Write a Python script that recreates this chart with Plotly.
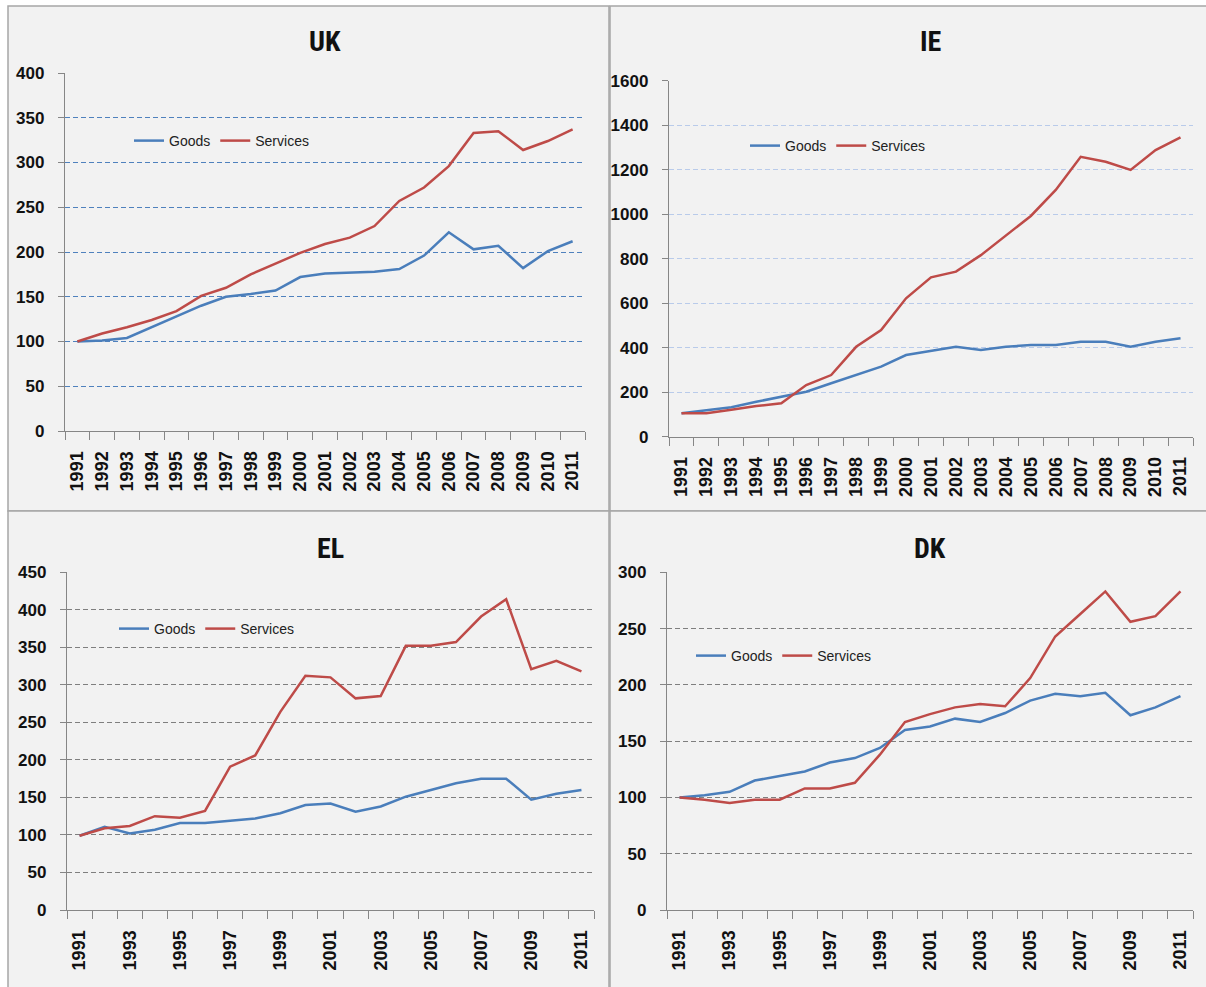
import plotly.graph_objects as go

years = list(range(1991, 2012))

uk_goods = [100, 101, 104, 116, 128, 140, 150, 153, 157, 172, 176, 177, 178, 181, 196, 222, 203, 207, 182, 201, 212]
uk_services = [100, 109, 116, 124, 134, 151, 160, 175, 187, 199, 209, 216, 229, 257, 272, 296, 333, 335, 314, 324, 337]

ie_goods = [105, 120, 132, 157, 180, 202, 240, 277, 315, 367, 386, 404, 390, 404, 412, 412, 427, 427, 404, 427, 442]
ie_services = [105, 105, 121, 138, 150, 232, 277, 404, 479, 622, 716, 742, 816, 902, 992, 1109, 1258, 1236, 1199, 1288, 1345]

el_goods = [99, 111, 102, 107, 116, 116, 119, 122, 129, 140, 142, 131, 138, 151, 160, 169, 175, 175, 147, 155, 160]
el_services = [99, 109, 112, 125, 123, 132, 191, 206, 264, 312, 310, 282, 285, 352, 352, 357, 391, 414, 321, 332, 318]

dk_goods = [100, 102, 105, 115, 119, 123, 131, 135, 144, 160, 163, 170, 167, 175, 186, 192, 190, 193, 173, 180, 190]
dk_services = [100, 98, 95, 98, 98, 108, 108, 113, 138, 167, 174, 180, 183, 181, 206, 243, 263, 283, 256, 261, 283]

panels = [
    # name, goods, services, xdomain, ydomain, yrange, dtick, gridcolor, label step, legend pos
    ("UK", uk_goods, uk_services, (65, 585), (73, 431), 400, 50, "#4f81bd", 1, (129, 141)),
    ("IE", ie_goods, ie_services, (669, 1193), (80.7, 436.7), 1600, 200, "#b9cbea", 1, (745, 146)),
    ("EL", el_goods, el_services, (67, 594), (572.3, 910), 450, 50, "#7f7f7f", 2, (114, 629)),
    ("DK", dk_goods, dk_services, (667, 1193), (572.3, 910), 300, 50, "#7f7f7f", 2, (691, 656)),
]

W, H = 1206, 987
GOODS_C = "#4a7ebb"
SERV_C = "#be4b48"
AXIS_C = "#868686"
TICK_FONT = "Liberation Sans, Arial, sans-serif"
TITLE_FONT = "Liberation Sans Narrow, Roboto Condensed, Arial Narrow, sans-serif"

fig = go.Figure()
layout = dict(
    width=W, height=H,
    margin=dict(l=0, r=0, t=0, b=0, autoexpand=False),
    paper_bgcolor="white",
    plot_bgcolor="rgba(0,0,0,0)",
    showlegend=True,
    shapes=[],
    annotations=[],
)

# panel backgrounds
for (x0, y0, x1, y1) in [(8, 6, 609, 511), (610, 6, 1212, 511), (8, 511, 609, 995), (610, 511, 1212, 995)]:
    layout["shapes"].append(dict(
        type="rect", xref="paper", yref="paper",
        x0=x0 / W, x1=x1 / W, y0=1 - y1 / H, y1=1 - y0 / H,
        fillcolor="#f2f2f2", line=dict(color="#a6a6a6", width=1.5), layer="below"))

for i, (name, goods, serv, xd, yd, ymax, dt, gc, step, lpos) in enumerate(panels):
    n = "" if i == 0 else str(i + 1)
    xa, ya = "x" + n, "y" + n
    leg = "legend" + n
    fig.add_trace(go.Scatter(x=years, y=goods, mode="lines", name="Goods",
                             line=dict(color=GOODS_C, width=2.5), xaxis=xa, yaxis=ya, legend=leg))
    fig.add_trace(go.Scatter(x=years, y=serv, mode="lines", name="Services",
                             line=dict(color=SERV_C, width=2.5), xaxis=xa, yaxis=ya, legend=leg))
    labels = years[::step]
    layout["xaxis" + n] = dict(
        domain=[xd[0] / W, xd[1] / W], anchor=ya,
        range=[1990.5, 2011.5], tickmode="array", tickvals=labels,
        ticktext=[str(y) for y in labels], tickangle=-90, ticks="",
        ticklabelstandoff=12,
        tickfont=dict(family=TICK_FONT, size=18, color="#111111", weight="bold"),
        showline=True, linecolor=AXIS_C, linewidth=1.3, showgrid=False, zeroline=False,
        minor=dict(tickmode="array", tickvals=[1990.5 + k for k in range(22)],
                   ticks="outside", ticklen=8, tickcolor=AXIS_C, tickwidth=1.3, showgrid=False),
        fixedrange=True, automargin=False,
    )
    layout["yaxis" + n] = dict(
        domain=[1 - yd[1] / H, 1 - yd[0] / H], anchor=xa,
        range=[0, ymax], dtick=dt, tick0=0,
        showline=True, linecolor=AXIS_C, linewidth=1.3,
        ticks="outside", ticklen=6, tickcolor=AXIS_C, tickwidth=1.3,
        ticklabelstandoff=10,
        showgrid=True, gridcolor=gc, griddash="5px,3px", gridwidth=1.2,
        zeroline=False,
        tickfont=dict(family=TICK_FONT, size=17, color="#111111", weight="bold"),
        fixedrange=True, automargin=False,
    )
    layout[leg] = dict(
        x=lpos[0] / W, y=1 - lpos[1] / H, xanchor="left", yanchor="middle",
        orientation="h", bgcolor="rgba(0,0,0,0)",
        font=dict(family="Liberation Sans, Arial, sans-serif", size=14, color="#222222"),
        itemwidth=30, tracegroupgap=0,
    )
    cx = (xd[0] + xd[1]) / 2
    ty = 42 if i < 2 else 548
    layout["annotations"].append(dict(
        text="<b>%s</b>" % name, x=cx / W, y=1 - ty / H, xref="paper", yref="paper",
        showarrow=False, font=dict(family=TITLE_FONT, size=28, color="#111111"),
        xanchor="center", yanchor="middle"))

fig.update_layout(**layout)
fig.write_html(
    "out.html",
    config={"displayModeBar": False},
    post_script=(
        "document.body.style.margin='0';"
        "document.body.style.overflow='hidden';"
    ),
)
